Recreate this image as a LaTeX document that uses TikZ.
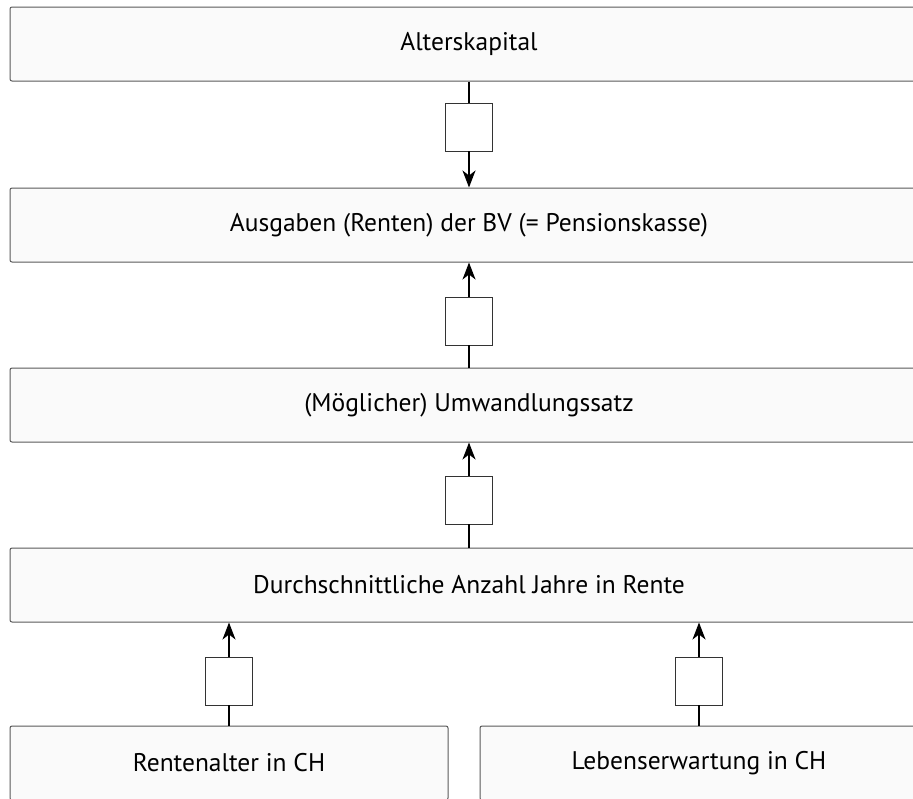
\documentclass[tikz,border=0pt]{standalone}
\usepackage{fontspec}
\setmainfont{PT Sans}
\usetikzlibrary{positioning,arrows.meta}

\begin{document}
\begin{tikzpicture}[x=1pt, y=-1pt,
level/.style={rectangle, rounded corners=2pt, draw=black!65, line width=1pt, fill=black!2, minimum width=918pt, minimum height=74pt, font=\fontsize{25.5}{29}\selectfont},
half/.style={level, minimum width=438pt},
gate/.style={rectangle, draw=black!80, line width=0.9pt, fill=white, minimum width=47pt, minimum height=48pt, inner sep=0pt},
flow/.style={line width=1.5pt, -{Stealth[length=17pt, width=13pt, inset=5pt]}},
link/.style={line width=1.5pt}
]
\useasboundingbox (0,0) rectangle (913,798);
%Nodes
\node[level]   (kapital)                                  at (469,44)  {Alterskapital};
\node[level]   (ausgaben)   [below=106pt of kapital]                   {Ausgaben (Renten) der BV (= Pensionskasse)};
\node[level]   (umwandlung) [below=105pt of ausgaben]                  {(Möglicher) Umwandlungssatz};
\node[level]   (jahre)      [below=105pt of umwandlung]                {Durchschnittliche Anzahl Jahre in Rente};
\node[half]    (alter)                                    at (229,763) {Rentenalter in CH};
\node[half]    (erwartung)                                at (699,763) {Lebenserwartung in CH};
\node[gate]    (g1)                                       at (469,127) {};
\node[gate]    (g2)                                       at (469,321) {};
\node[gate]    (g3)                                       at (469,500) {};
\node[gate]    (g4)                                       at (229,681) {};
\node[gate]    (g5)                                       at (699,681) {};
%Lines
\draw[link] (kapital) -- (g1);
\draw[flow] (g1) -- (ausgaben);
\draw[link] (umwandlung) -- (g2);
\draw[flow] (g2) -- (ausgaben);
\draw[link] (jahre) -- (g3);
\draw[flow] (g3) -- (umwandlung);
\draw[link] (alter) -- (g4);
\draw[flow] (g4) -- (alter |- jahre.south);
\draw[link] (erwartung) -- (g5);
\draw[flow] (g5) -- (erwartung |- jahre.south);
\end{tikzpicture}
\end{document}
